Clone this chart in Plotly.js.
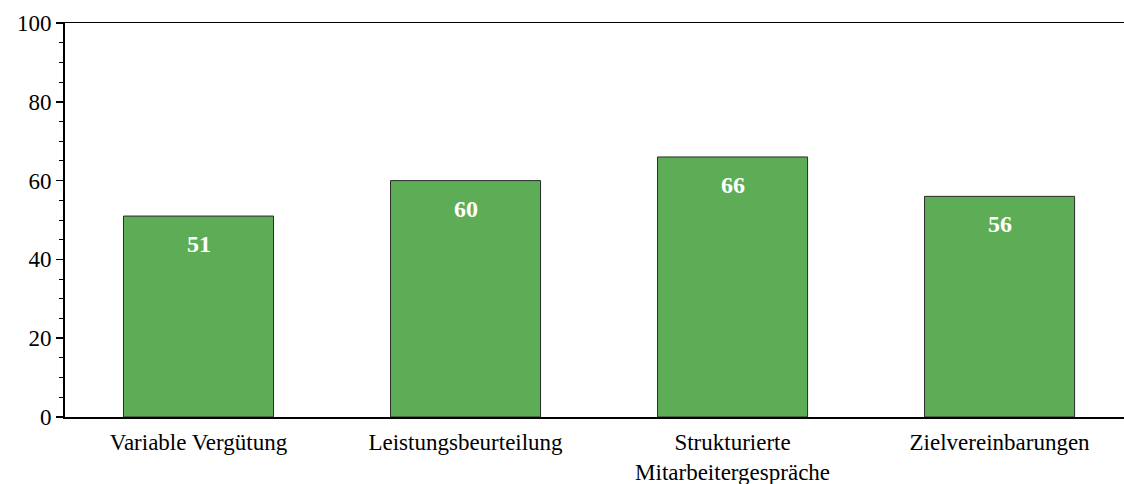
<!DOCTYPE html>
<html>
<head>
<meta charset="utf-8">
<script src="https://cdn.plot.ly/plotly-3.0.1.min.js"></script>
<style>html,body{margin:0;padding:0;background:#fff;}#chart{width:1124px;height:484px;}</style>
</head>
<body>
<div id="chart"></div>
<script>
const categories = ["Variable Vergütung", "Leistungsbeurteilung", "Strukturierte<br>Mitarbeitergespräche", "Zielvereinbarungen"];
const values = [51, 60, 66, 56];
const yTickValues = [0, 20, 40, 60, 80, 100];

const font = "Liberation Serif";

const trace = {
  type: "bar",
  x: categories,
  y: values,
  marker: {color: "#5DAD56", line: {color: "#2b2b2b", width: 1}},
  width: 0.562,
  hoverinfo: "none"
};

const annotations = categories.map((c, i) => ({
  x: c, y: values[i], xref: "x", yref: "y",
  text: "<b>" + values[i] + "</b>",
  showarrow: false, yanchor: "top", yshift: -13,
  font: {family: font, size: 24, color: "#ffffff"}
}));

const layout = {
  width: 1124, height: 484,
  margin: {l: 65, r: 0, t: 23, b: 67},
  paper_bgcolor: "#fff", plot_bgcolor: "#fff",
  showlegend: false,
  font: {family: font, size: 22, color: "#000"},
  xaxis: {
    type: "category",
    range: [-0.5, 3.466],
    showline: true, linecolor: "#000", linewidth: 1.5, mirror: true,
    ticks: "outside", ticklen: 4, tickcolor: "rgba(0,0,0,0)",
    showgrid: false, zeroline: false,
    tickfont: {family: font, size: 23, color: "#000"}
  },
  yaxis: {
    range: [0, 100],
    tickvals: yTickValues,
    ticktext: yTickValues.map(String),
    showline: true, linecolor: "#000", linewidth: 2,
    ticks: "outside", ticklen: 7, tickwidth: 1.5, tickcolor: "#000",
    minor: {dtick: 5, ticks: "outside", ticklen: 4, tickwidth: 1, tickcolor: "#000", showgrid: false},
    showgrid: false, zeroline: false,
    tickfont: {family: font, size: 23, color: "#000"}
  },
  annotations: annotations
};

Plotly.newPlot("chart", [trace], layout, {staticPlot: true, displayModeBar: false});
</script>
</body>
</html>
